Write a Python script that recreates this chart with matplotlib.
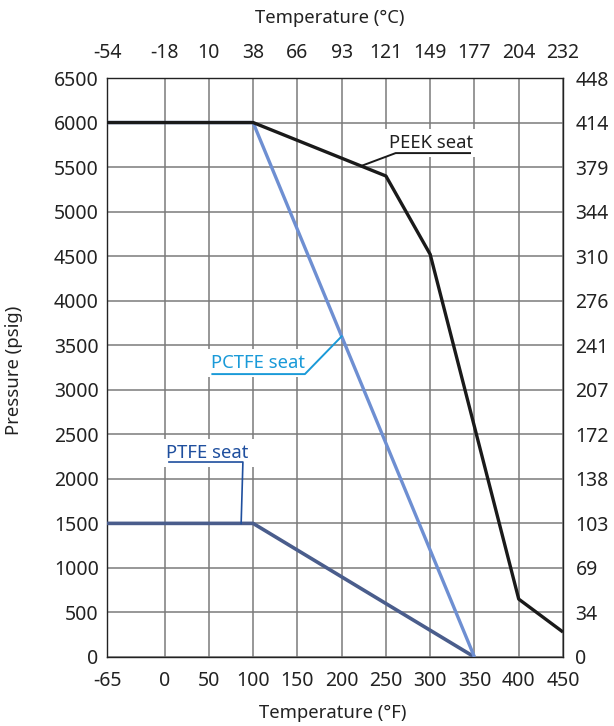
import matplotlib
matplotlib.use("Agg")
import matplotlib.pyplot as plt
import numpy as np

plt.rcParams['font.family'] = ['Noto Sans', 'DejaVu Sans']

# Temperature ticks (°F on the bottom, °C equivalents on top)
temp_f_ticks = [-65, 0, 50, 100, 150, 200, 250, 300, 350, 400, 450]
temp_c_labels = ['-54', '-18', '10', '38', '66', '93', '121', '149', '177', '204', '232']

# Pressure ticks (psig on the left, bar equivalents on the right)
psig_ticks = [0, 500, 1000, 1500, 2000, 2500, 3000, 3500, 4000, 4500, 5000, 5500, 6000, 6500]
bar_labels = ['0', '34', '69', '103', '138', '172', '207', '241', '276', '310', '344', '379', '414', '448']

# Pressure-temperature ratings per seat material
peek_temp = [-65, 100, 250, 300, 400, 450]
peek_psig = [6000, 6000, 5400, 4520, 650, 280]

pctfe_temp = [-65, 100, 350]
pctfe_psig = [6000, 6000, 0]

ptfe_temp = [-65, 100, 350]
ptfe_psig = [1500, 1500, 0]

C_PEEK = '#1a1a1a'
C_PCTFE = '#6e8fd2'
C_PTFE = '#4a5d8c'
C_PCTFE_TXT = '#1a9ad8'
C_PTFE_TXT = '#1f4f9e'
C_GRID = '#7a7a7a'

fig = plt.figure(figsize=(6.14, 7.26), dpi=100)
ax = fig.add_axes([107 / 614, 1 - 657 / 726, (563 - 107) / 614, (657 - 78) / 726])

xmin, xmax = -65, 450
ymin, ymax = 0, 6500
ax.set_xlim(xmin, xmax)
ax.set_ylim(ymin, ymax)

ax.set_xticks(temp_f_ticks)
ax.set_xticklabels([str(t) for t in temp_f_ticks])
ax.set_yticks(psig_ticks)
ax.set_yticklabels([str(p) for p in psig_ticks])
ax.grid(True, color=C_GRID, linewidth=1.1, zorder=0)
ax.set_axisbelow(True)
ax.tick_params(axis='both', length=0, labelsize=14, colors='#222222')
ax.tick_params(axis='x', pad=10)
ax.tick_params(axis='y', pad=6)
for s in ax.spines.values():
    s.set_color('#222222')
    s.set_linewidth(1.0)

# Rating curves
ax.plot(ptfe_temp, ptfe_psig, color=C_PTFE, linewidth=2.6, zorder=3, solid_capstyle='butt')
ax.plot(pctfe_temp, pctfe_psig, color=C_PCTFE, linewidth=2.4, zorder=4, solid_capstyle='butt')
ax.plot(peek_temp, peek_psig, color=C_PEEK, linewidth=2.4, zorder=5, solid_capstyle='butt')

# Callouts
box = dict(facecolor='white', edgecolor='none', pad=3.5)
ax.text(254, 5770, 'PEEK seat', fontsize=13.3, color='#222222', ha='left', va='center',
        bbox=box, zorder=6)
ax.plot([222, 261, 345], [6000 - (222 - 100) * 4, 5657, 5657], color=C_PEEK, lw=1.4, zorder=7)

ax.text(53, 3300, 'PCTFE seat', fontsize=13.3, color=C_PCTFE_TXT, ha='left', va='center',
        bbox=box, zorder=6)
ax.plot([54, 158.5, 200], [3176, 3176, 3600], color=C_PCTFE_TXT, lw=1.4, zorder=7)

ax.text(2, 2290, 'PTFE seat', fontsize=13.3, color=C_PTFE_TXT, ha='left', va='center',
        bbox=box, zorder=6)
ax.plot([5, 88.5, 86.5], [2189, 2189, 1500], color=C_PTFE_TXT, lw=1.2, zorder=7)

# Secondary scales
axr = ax.twinx()
axr.set_ylim(ymin, ymax)
axr.set_yticks(psig_ticks)
axr.set_yticklabels(bar_labels)
axr.tick_params(axis='y', length=0, labelsize=14, colors='#222222', pad=9)

axt = ax.twiny()
axt.set_xlim(xmin, xmax)
axt.set_xticks(temp_f_ticks)
axt.set_xticklabels(temp_c_labels)
axt.tick_params(axis='x', length=0, labelsize=14, colors='#222222', pad=11)
for a in (axr, axt):
    for s in a.spines.values():
        s.set_visible(False)

fig.text(333 / 614, 1 - 713 / 726, 'Temperature (°F)', ha='center', va='center',
         fontsize=13.3, color='#222222')
fig.text(330 / 614, 1 - 18 / 726, 'Temperature (°C)', ha='center', va='center',
         fontsize=13.3, color='#222222')
fig.text(14 / 614, 1 - 370 / 726, 'Pressure (psig)', ha='center', va='center',
         rotation=90, fontsize=13.3, color='#222222')

fig.savefig('out.png', dpi=100, facecolor='white')
